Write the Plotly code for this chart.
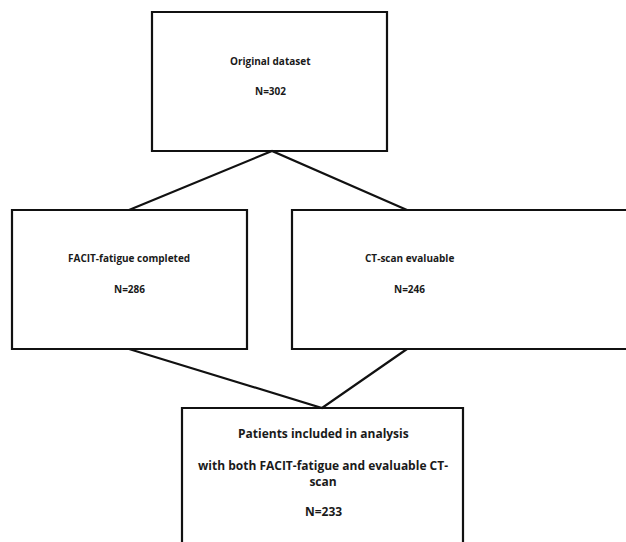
import plotly.graph_objects as go

# Data: box labels and counts
box_titles = [
    "Original dataset",
    "FACIT-fatigue completed",
    "CT-scan evaluable",
    "Patients included in analysis",
]
box_subtitles = ["", "", "", "with both FACIT-fatigue and evaluable CT-<br>scan"]
box_counts = [302, 286, 246, 233]

# Layout geometry (pixels, y down)
boxes = [
    (152, 12, 387, 151),
    (12, 210, 247, 349),
    (292, 210, 700, 349),
    (182, 408, 463, 700),
]
title_x = [270, 129, 409, 323]
title_y = [61, 258, 258, 433]
sub_y = [None, None, None, 473.5]
count_y = [91, 289, 289, 511]
font_sizes = [10, 10, 10, 12]
connectors = [
    ((129, 210), (272, 151), (407, 210)),
    ((129, 349), (322, 408), (407, 349)),
]

W, H = 626, 542
LINE = dict(color="#111111", width=2.2)


def font(sz):
    return dict(family="Open Sans", size=sz, color="#1a1a1a")


fig = go.Figure()
for pts in connectors:
    fig.add_trace(go.Scatter(
        x=[p[0] for p in pts], y=[p[1] for p in pts],
        mode="lines", line=LINE, hoverinfo="skip", showlegend=False))

shapes = []
for b in boxes:
    x0, y0, x1, y1 = b
    # boxes running off the page edge are drawn open on that side
    if x1 > W:
        path = f"M{x1},{y0} L{x0},{y0} L{x0},{y1} L{x1},{y1}"
    elif y1 > H:
        path = f"M{x0},{y1} L{x0},{y0} L{x1},{y0} L{x1},{y1}"
    else:
        path = f"M{x0},{y0} L{x1},{y0} L{x1},{y1} L{x0},{y1} Z"
    shapes.append(dict(type="path", xref="x", yref="y", path=path,
                       line=LINE, fillcolor="rgba(0,0,0,0)", layer="above"))

annotations = []
for i in range(len(box_titles)):
    f = font(font_sizes[i])
    annotations.append(dict(x=title_x[i], y=title_y[i], text=f"<b>{box_titles[i]}</b>", showarrow=False,
                            xref="x", yref="y", font=f, xanchor="center", yanchor="middle"))
    if box_subtitles[i]:
        annotations.append(dict(x=title_x[i], y=sub_y[i], text=f"<b>{box_subtitles[i]}</b>", showarrow=False,
                                xref="x", yref="y", font=f, xanchor="center", yanchor="middle"))
    annotations.append(dict(x=title_x[i], y=count_y[i], text=f"<b>N={box_counts[i]}</b>", showarrow=False,
                            xref="x", yref="y", font=f, xanchor="center", yanchor="middle"))

fig.update_layout(
    width=W, height=H, margin=dict(l=0, r=0, t=0, b=0),
    paper_bgcolor="white", plot_bgcolor="white",
    xaxis=dict(range=[0, W], visible=False, fixedrange=True),
    yaxis=dict(range=[H, 0], visible=False, fixedrange=True),
    shapes=shapes, annotations=annotations,
)
fig.write_html("out.html", config={"displayModeBar": False},
               post_script="document.body.style.margin='0';document.body.style.overflow='hidden';")
